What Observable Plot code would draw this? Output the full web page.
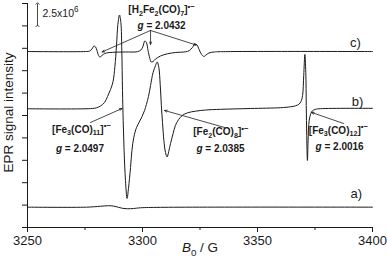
<!DOCTYPE html>
<html><head><meta charset="utf-8">
<script src="https://cdn.jsdelivr.net/npm/d3@7"></script>
<script src="https://cdn.jsdelivr.net/npm/@observablehq/plot@0.6"></script>
<style>
body{margin:0;background:#fff;}
#chart{width:387px;height:265px;}
</style></head><body><div id="chart"></div>
<script>
// Magnetic field B0 (G) and EPR signal intensity (units of 10^6)
const fieldA = [3250, 3275.7, 3281.7, 3285.2, 3287.4, 3289.6, 3291.3, 3293.5, 3296.1, 3299.1, 3307.8, 3400];
const signalA = [2.27, 2.27, 2.37, 2.43, 2.39, 2.25, 2.14, 2.09, 2.12, 2.20, 2.25, 2.27];

const fieldB = [3250, 3277.4, 3280.0, 3281.7, 3283.5, 3284.8, 3286.1, 3287.2, 3288.0, 3288.7,
  3289.3, 3290.0, 3290.6, 3291.0, 3291.3, 3291.6, 3292.0, 3292.6, 3293.3, 3293.9,
  3294.8, 3295.4, 3296.2, 3297.4, 3298.5, 3299.8, 3300.9, 3301.7, 3302.6, 3303.5,
  3304.6, 3305.7, 3306.4, 3307.1, 3307.7, 3308.2, 3308.7, 3309.3, 3310.0, 3310.7,
  3311.4, 3312.2, 3313.3, 3314.3, 3315.7, 3317.3, 3319.6, 3323.0, 3327.4, 3333.9,
  3347.0, 3360.0, 3364.3, 3366.5, 3368.0, 3368.9, 3369.6, 3370.1, 3370.6, 3371.0,
  3371.2, 3371.4, 3371.7, 3372.0, 3372.3, 3372.8, 3373.8, 3375.2, 3377.4, 3400];
const signalB = [13.25, 13.27, 13.36, 13.56, 13.95, 14.62, 15.40, 16.30, 17.97, 20.31,
  22.66, 23.72, 22.88, 19.75, 15.29, 11.94, 8.59, 5.25, 3.24, 4.35,
  6.70, 8.59, 10.04, 11.16, 11.72, 12.39, 13.06, 13.73, 14.62, 15.85,
  17.30, 18.08, 18.47, 17.86, 15.96, 13.62, 11.72, 9.71, 8.37, 7.87,
  8.48, 9.38, 10.49, 11.38, 12.05, 12.50, 12.80, 12.98, 13.11, 13.19,
  13.28, 13.37, 13.47, 13.58, 13.76, 14.06, 14.73, 16.96, 19.31, 17.30,
  13.62, 10.27, 7.48, 9.71, 11.50, 12.39, 13.00, 13.19, 13.26, 13.30];

const fieldC = [3250, 3275.2, 3277.0, 3278.0, 3278.9, 3279.6, 3280.2, 3280.9, 3281.4, 3282.2,
  3283.0, 3284.3, 3287.0, 3292.6, 3297.8, 3299.3, 3300.2, 3301.0, 3301.7, 3302.4,
  3303.2, 3303.8, 3304.6, 3305.7, 3307.8, 3310.9, 3314.3, 3318.7, 3320.4, 3321.7,
  3322.8, 3323.7, 3324.6, 3325.7, 3326.7, 3327.6, 3328.9, 3331.3, 3336.1, 3400];
const signalC = [19.64, 19.64, 19.69, 19.92, 20.26, 20.15, 19.75, 19.20, 19.03, 19.16,
  19.33, 19.48, 19.55, 19.59, 19.62, 19.81, 20.20, 20.82, 20.65, 19.75,
  18.86, 18.47, 18.53, 18.81, 19.14, 19.39, 19.53, 19.61, 19.75, 20.09,
  20.48, 20.37, 19.87, 19.31, 19.09, 19.25, 19.48, 19.59, 19.63, 19.64];

// Axis ticks
const xMajorTicks = [3250, 3300, 3350, 3400];
const xMinorTicks = [3275, 3325, 3375];
const yTicks = [0, 2.5, 5, 7.5, 10, 12.5, 15, 17.5, 20, 22.5, 25];

// Trace labels
const traceLabels = ["a)", "b)", "c)"];
const traceLabelField = [3393.0, 3393.5, 3392.6];
const traceLabelSignal = [3.79, 14.06, 20.65];

// Species annotations (_{} subscript, ^{} superscript, %{} italic)
const annotText = ["[H_{2}Fe_{2}(CO)_{7}]^{•−}", "%{g} = 2.0432",
  "[Fe_{3}(CO)_{11}]^{•−}", "%{g} = 2.0497",
  "[Fe_{2}(CO)_{8}]^{•−}", "%{g} = 2.0385",
  "[Fe_{3}(CO)_{12}]^{•−}", "%{g} = 2.0016"];
const annotField = [3308.3, 3308.3, 3273.5, 3272.8, 3334.1, 3333.9, 3385.2, 3385.7];
const annotSignal = [24.33, 22.54, 10.94, 8.82, 10.71, 8.76, 10.83, 8.96];

// Annotation arrows
const arrowField1 = [3303.5, 3303.5, 3303.5, 3277.4, 3335.7, 3387.4];
const arrowSignal1 = [21.99, 21.99, 21.99, 11.72, 11.16, 11.61];
const arrowField2 = [3282.4, 3303.5, 3323.3, 3291.1, 3309.6, 3373.5];
const arrowSignal2 = [19.59, 20.43, 20.37, 13.28, 13.06, 12.84];

// Scale bar
const scaleBarField = [3254.35];
const scaleBarSignal1 = [22.5];
const scaleBarSignal2 = [25.0];
const scaleBarLabel = ["2.5x10^{6}"];
const scaleLabelField = [3256.5];
const scaleLabelSignal = [23.88];

const toRows = (f, s) => f.map((b, i) => ({field: b, signal: s[i]}));
const traceA = toRows(fieldA, signalA);
const traceB = toRows(fieldB, signalB);
const traceC = toRows(fieldC, signalC);
const annots = annotText.map((t, i) => ({text: t, field: annotField[i], signal: annotSignal[i]}));
const arrows = arrowField1.map((b, i) => ({x1: b, y1: arrowSignal1[i], x2: arrowField2[i], y2: arrowSignal2[i]}));
const tLabels = traceLabels.map((t, i) => ({text: t, field: traceLabelField[i], signal: traceLabelSignal[i]}));
const scaleBar = scaleBarField.map((b, i) => ({x: b, y1: scaleBarSignal1[i], y2: scaleBarSignal2[i]}));
const scaleLbl = scaleBarLabel.map((t, i) => ({text: t, field: scaleLabelField[i], signal: scaleLabelSignal[i]}));

const ink = "#1a1a1a";
const font = "'Liberation Sans', Arial, Helvetica, sans-serif";

const chart = Plot.plot({
  width: 387, height: 265,
  marginLeft: 27, marginRight: 15, marginTop: 3, marginBottom: 38,
  x: {domain: [3250, 3400]},
  y: {domain: [0, 25]},
  style: {fontFamily: font, fontSize: "13px", color: ink, background: "#fff"},
  marks: [
    Plot.frame({anchor: "left", stroke: ink}),
    Plot.frame({anchor: "bottom", stroke: ink}),
    Plot.axisY({ticks: yTicks, tickSize: 5, tickFormat: () => "", label: null, stroke: ink}),
    Plot.axisX({ticks: xMajorTicks, tickSize: 5, tickPadding: 3, tickFormat: d => String(d), label: null, stroke: ink, fill: ink}),
    Plot.axisX({ticks: xMinorTicks, tickSize: 3, tickFormat: () => "", label: null, stroke: ink}),
    Plot.line(traceA, {x: "field", y: "signal", stroke: ink, strokeWidth: 1, curve: "catmull-rom"}),
    Plot.line(traceB, {x: "field", y: "signal", stroke: ink, strokeWidth: 1, curve: "catmull-rom"}),
    Plot.line(traceC, {x: "field", y: "signal", stroke: ink, strokeWidth: 1, curve: "catmull-rom"}),
    Plot.arrow(arrows, {x1: "x1", y1: "y1", x2: "x2", y2: "y2", stroke: ink, strokeWidth: 0.8, headLength: 5, headAngle: 45}),
    Plot.link(scaleBar, {x1: "x", x2: "x", y1: "y1", y2: "y2", stroke: ink, strokeWidth: 0.8, markerStart: "arrow", markerEnd: "arrow"}),
    Plot.text(scaleLbl, {x: "field", y: "signal", text: "text", textAnchor: "start", fontSize: 10.5, fill: ink}),
    Plot.text(annots, {x: "field", y: "signal", text: "text", fontSize: 10, fontWeight: "bold", fill: ink}),
    Plot.text(tLabels, {x: "field", y: "signal", text: "text", fontSize: 13, fill: ink}),
    Plot.text(["EPR signal intensity"], {frameAnchor: "left", textAnchor: "middle", lineAnchor: "middle", rotate: -90, dx: -19, dy: -3, fontSize: 13.5, fill: ink}),
    Plot.text(["%{B}_{0} / G"], {frameAnchor: "bottom", textAnchor: "middle", lineAnchor: "middle", dy: 20, fontSize: 13.5, fill: ink})
  ]
});
document.getElementById("chart").appendChild(chart);

// Turn markup into real sub/superscript tspans
const SVGNS = "http://www.w3.org/2000/svg";
chart.querySelectorAll("text").forEach(t => {
  const s = t.textContent;
  if (!/[_^%]\{/.test(s)) return;
  const fs = parseFloat(getComputedStyle(t).fontSize) || 10;
  const parts = [];
  const re = /([_^%])\{([^}]*)\}/g;
  let last = 0, m;
  while ((m = re.exec(s))) {
    if (m.index > last) parts.push({type: "n", text: s.slice(last, m.index)});
    parts.push({type: m[1], text: m[2]});
    last = re.lastIndex;
  }
  if (last < s.length) parts.push({type: "n", text: s.slice(last)});
  while (t.firstChild) t.removeChild(t.firstChild);
  let cur = 0;
  parts.forEach(p => {
    const ts = document.createElementNS(SVGNS, "tspan");
    let target = 0;
    if (p.type === "_") { target = 0.28 * fs; ts.setAttribute("font-size", (0.72 * fs).toFixed(2)); }
    else if (p.type === "^") { target = -0.42 * fs; ts.setAttribute("font-size", (0.78 * fs).toFixed(2)); }
    else if (p.type === "%") { ts.setAttribute("font-style", "italic"); }
    if (target !== cur) ts.setAttribute("dy", (target - cur).toFixed(2));
    cur = target;
    ts.textContent = p.text;
    t.appendChild(ts);
  });
});
</script>
</body></html>
